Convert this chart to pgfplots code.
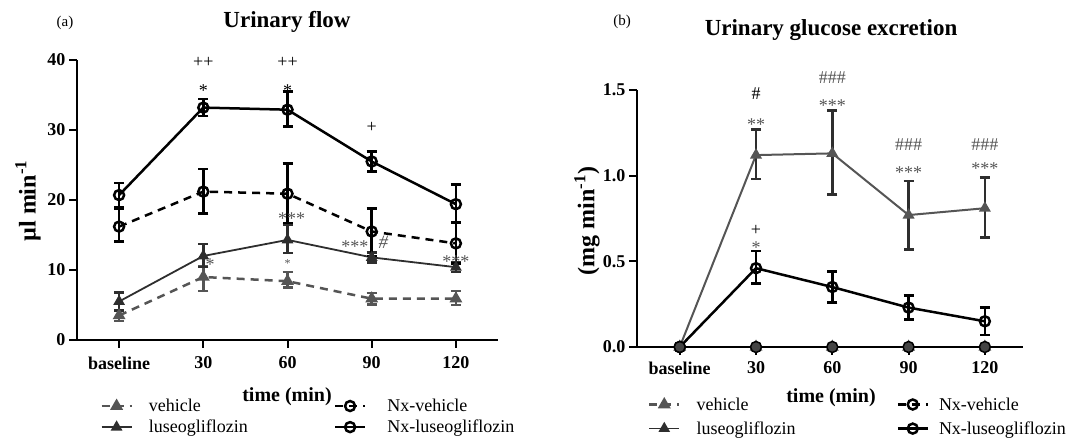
\documentclass[border=0pt]{standalone}
\usepackage{fontspec}
\setmainfont{Liberation Serif}
\usepackage{pgfplots}
\pgfplotsset{compat=1.18}
\definecolor{vgray}{HTML}{555555}
\definecolor{lgray}{HTML}{2E2E2E}
\definecolor{dotgray}{HTML}{444444}
\tikzset{ann/.style={font=\fontsize{18}{18}\selectfont}}
\begin{document}
\begin{tikzpicture}[x=1pt,y=1pt]
\pgfplotsset{
 myaxis/.style={scale only axis, axis lines=left,
   axis line style={-, line width=2.5pt},
   tick align=outside, major tick length=8pt,
   tick style={line width=2pt, black},
   xmax=4.5, xtick={0,1,2,3,4}, xticklabels={baseline,30,60,90,120},
   tick label style={font=\fontsize{18}{18}\selectfont\bfseries},
   /pgf/number format/assume math mode=true,
   clip=false, legend cell align=left, legend columns=2, transpose legend,
   legend style={draw=none, fill=none, font=\fontsize{18}{20}\selectfont,
     anchor=north west, inner sep=0pt, row sep=3pt,
     /tikz/column 1/.style={column sep=14pt}},
   legend image code/.code={\draw[mark repeat=2,mark phase=2] plot coordinates {(0pt,0pt) (15pt,0pt) (30pt,0pt)};},
 },
 eb/.style={error bars/y dir=both, error bars/y explicit,
   error bars/error bar style={line width=2.5pt, solid},
   error bars/error mark options={rotate=90, line width=2.5pt, mark size=5pt, solid}},
 sveh/.style={vgray, line width=2.5pt, dash pattern=on 8pt off 6pt, mark=triangle*, mark size=5pt, mark options={solid, fill=vgray}},
 sluse/.style={lgray, line width=1.8pt, mark=triangle*, mark size=5pt, mark options={solid, fill=lgray}},
 snxveh/.style={black, line width=2.5pt, dash pattern=on 8pt off 6pt, mark=o, mark size=5pt, mark options={solid, line width=2.5pt, fill=white}},
 snxluse/.style={black, line width=2.5pt, mark=o, mark size=5pt, mark options={solid, line width=2.5pt, fill=white}},
}
% ---------------- panel (a)
\begin{axis}[myaxis, at={(77pt,101pt)}, anchor=south west, width=421pt, height=280pt,
  xmin=-0.5, ymin=0, ymax=40, ytick={0,10,20,30,40},
  xticklabel style={yshift=-5pt},
  legend style={at={(0.055,-0.203)}, /tikz/column 2/.style={column sep=84pt},
    /tikz/column 3/.style={column sep=19pt}}]
\addlegendimage{sveh}\addlegendentry{vehicle}
\addlegendimage{sluse}\addlegendentry{luseogliflozin}
\addlegendimage{snxveh}\addlegendentry{Nx-vehicle}
\addlegendimage{snxluse}\addlegendentry{Nx-luseogliflozin}
\addplot[sveh, eb, forget plot] coordinates {
 (0,3.5) +- (0,0.8)
 (1,9.0) += (0,1.5) -= (0,2.0)
 (2,8.4) += (0,1.3) -= (0,0.9)
 (3,5.9) +- (0,0.8)
 (4,5.9) += (0,1.1) -= (0,0.9)};
\addplot[sluse, eb, forget plot] coordinates {
 (0,5.5) +- (0,1.3)
 (1,12.0) += (0,1.7) -= (0,1.6)
 (2,14.3) += (0,2.2) -= (0,1.9)
 (3,11.8) +- (0,0.7)
 (4,10.4) +- (0,0.7)};
\addplot[snxveh, eb, forget plot] coordinates {
 (0,16.2) += (0,2.5) -= (0,2.1)
 (1,21.2) += (0,3.2) -= (0,3.1)
 (2,20.9) += (0,4.3) -= (0,4.2)
 (3,15.5) += (0,3.3) -= (0,3.5)
 (4,13.8) +- (0,2.9)};
\addplot[snxluse, eb, forget plot] coordinates {
 (0,20.7) +- (0,1.7)
 (1,33.2) +- (0,1.2)
 (2,32.9) += (0,2.6) -= (0,2.4)
 (3,25.5) +- (0,1.4)
 (4,19.4) += (0,2.8) -= (0,2.6)};
\node[ann] at (axis cs:1,39.7) {++};
\node[ann] at (axis cs:1,35.6) {*};
\node[ann] at (axis cs:2,39.7) {++};
\node[ann] at (axis cs:2,35.6) {*};
\node[ann] at (axis cs:3,30.4) {+};
\node[ann, vgray] at (axis cs:2.05,17.4) {***};
\node[ann, vgray, font=\fontsize{12}{12}\selectfont] at (axis cs:2,10.9) {*};
\node[ann, vgray] at (axis cs:1.08,10.8) {*};
\node[ann, vgray] at (axis cs:2.8,13.4) {***};
\node[ann, vgray, font=\fontsize{19}{19}\selectfont\itshape] at (axis cs:3.14,14.0) {\#};
\node[ann, vgray] at (axis cs:4,11.2) {***};
\end{axis}
% ---------------- panel (b)
\begin{axis}[myaxis, at={(637pt,94pt)}, anchor=south west, width=386pt, height=257pt,
  xmin=-0.56, ymin=0, ymax=1.5, ytick={0,0.5,1,1.5},
  xticklabel style={yshift=-3pt},
  yticklabel style={/pgf/number format/.cd, fixed, fixed zerofill, precision=1},
  legend style={at={(0.028,-0.188)}, row sep=6pt, /tikz/column 2/.style={column sep=99pt},
    /tikz/column 3/.style={column sep=8pt}}]
\addlegendimage{sveh}\addlegendentry{vehicle}
\addlegendimage{sluse}\addlegendentry{luseogliflozin}
\addlegendimage{snxveh}\addlegendentry{Nx-vehicle}
\addlegendimage{snxluse}\addlegendentry{Nx-luseogliflozin}
\addplot[sveh, forget plot] coordinates {(0,0) (1,0) (2,0) (3,0) (4,0)};
\addplot[black, line width=2.5pt, mark=*, mark size=5.5pt, mark options={solid, line width=1.5pt, fill=dotgray}, forget plot] coordinates {(0,0) (1,0) (2,0) (3,0) (4,0)};
\addplot[snxluse, eb, forget plot] coordinates {
 (0,0) +- (0,0)
 (1,0.46) += (0,0.10) -= (0,0.09)
 (2,0.35) +- (0,0.09)
 (3,0.23) +- (0,0.07)
 (4,0.15) +- (0,0.08)};
\addplot[vgray, line width=2pt, mark=triangle*, mark size=5pt, mark options={solid, fill=vgray}, eb,
  error bars/error bar style={line width=2.5pt, solid, lgray},
  error bars/error mark options={rotate=90, line width=2.5pt, mark size=5pt, solid, lgray}, forget plot] coordinates {
 (0,0) +- (0,0)
 (1,1.12) += (0,0.15) -= (0,0.14)
 (2,1.13) += (0,0.25) -= (0,0.24)
 (3,0.77) +- (0,0.20)
 (4,0.81) += (0,0.18) -= (0,0.17)};
\addplot[black, line width=1pt, mark=*, mark size=5.5pt, mark options={solid, line width=1.5pt, fill=dotgray}, forget plot] coordinates {(0,0)};
\node[ann] at (axis cs:1,1.48) {\#};
\node[ann, vgray] at (axis cs:1,1.30) {**};
\node[ann, vgray] at (axis cs:2,1.57) {\#\#\#};
\node[ann, vgray] at (axis cs:2,1.41) {***};
\node[ann, vgray] at (axis cs:3,1.18) {\#\#\#};
\node[ann, vgray] at (axis cs:3,1.02) {***};
\node[ann, vgray] at (axis cs:4,1.18) {\#\#\#};
\node[ann, vgray] at (axis cs:4,1.04) {***};
\node[ann] at (axis cs:1,0.68) {+};
\node[ann, vgray] at (axis cs:1,0.58) {*};
\end{axis}
% ---------------- texts
\node[font=\fontsize{23}{23}\selectfont\bfseries] at (287,419) {Urinary flow};
\node[font=\fontsize{15}{15}\selectfont] at (65,418) {(a)};
\node[font=\fontsize{23}{23}\selectfont\bfseries] at (831,411) {Urinary glucose excretion};
\node[font=\fontsize{15}{15}\selectfont] at (622,419) {(b)};
\node[rotate=90, font=\fontsize{24}{24}\selectfont\bfseries] at (28,240) {µl min\textsuperscript{-1}};
\node[rotate=90, font=\fontsize{24}{24}\selectfont\bfseries] at (587,220) {(mg min\textsuperscript{-1})};
\node[font=\fontsize{20}{20}\selectfont\bfseries] at (287,44) {time (min)};
\node[font=\fontsize{20}{20}\selectfont\bfseries] at (831,43) {time (min)};
\pgfresetboundingbox
\useasboundingbox (0,0) rectangle (1073,441);
\end{tikzpicture}
\end{document}
